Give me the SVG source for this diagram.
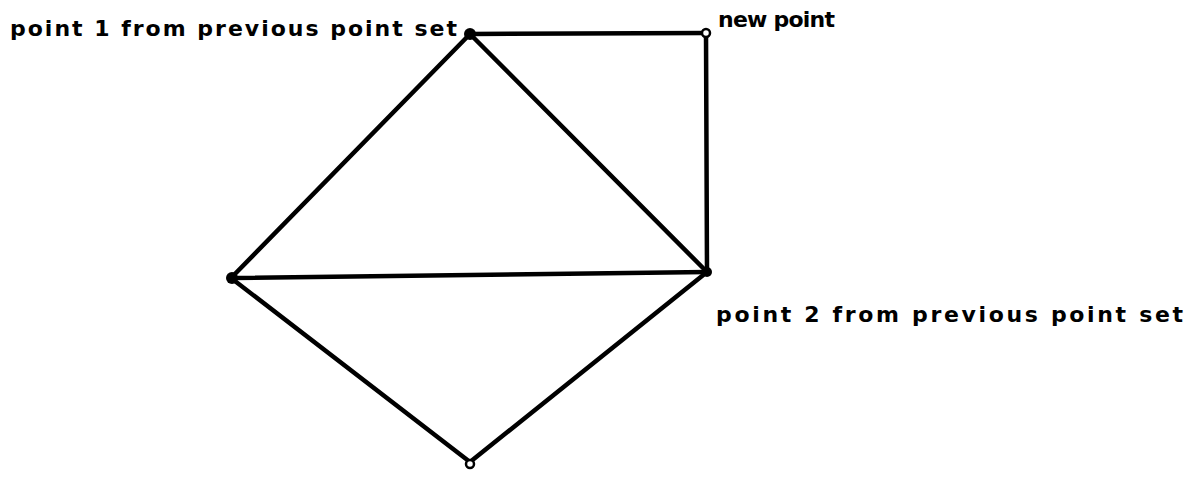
<svg xmlns="http://www.w3.org/2000/svg" width="1204" height="499" viewBox="0 0 1204 499">
<style>
.e{stroke:#000;stroke-width:4.5;fill:none;stroke-linecap:round}
.t{font-family:"DejaVu Sans","Liberation Sans",sans-serif;font-weight:bold;font-size:22px;fill:#000}
</style>
<rect width="1204" height="499" fill="#fff"/>
<g id="connectors">
<line class="e" x1="470" y1="34" x2="706" y2="33"/>
<line class="e" x1="706" y1="33" x2="707" y2="272"/>
<line class="e" x1="470" y1="34" x2="231" y2="278"/>
<line class="e" x1="470" y1="34" x2="707" y2="272"/>
<line class="e" x1="231" y1="278" x2="707" y2="272"/>
<line class="e" x1="231" y1="278" x2="470" y2="462"/>
<line class="e" x1="470" y1="462" x2="707" y2="272"/>
</g>
<g id="p1"><circle cx="470" cy="34" r="6" fill="#000"/>
<text class="t" x="10" y="36" textLength="447" lengthAdjust="spacing">point 1 from previous point set</text></g>
<g id="newpoint"><circle cx="706" cy="33" r="4" fill="#fff" stroke="#000" stroke-width="2.5"/>
<text class="t" x="718" y="27" textLength="117" lengthAdjust="spacing">new point</text></g>
<g id="p2"><circle cx="707" cy="272" r="5" fill="#000"/>
<text class="t" x="716" y="322" textLength="467" lengthAdjust="spacing">point 2 from previous point set</text></g>
<g id="left"><circle cx="232" cy="278" r="6" fill="#000"/></g>
<g id="bottom"><circle cx="470" cy="464" r="4" fill="#fff" stroke="#000" stroke-width="2.5"/></g>
</svg>
